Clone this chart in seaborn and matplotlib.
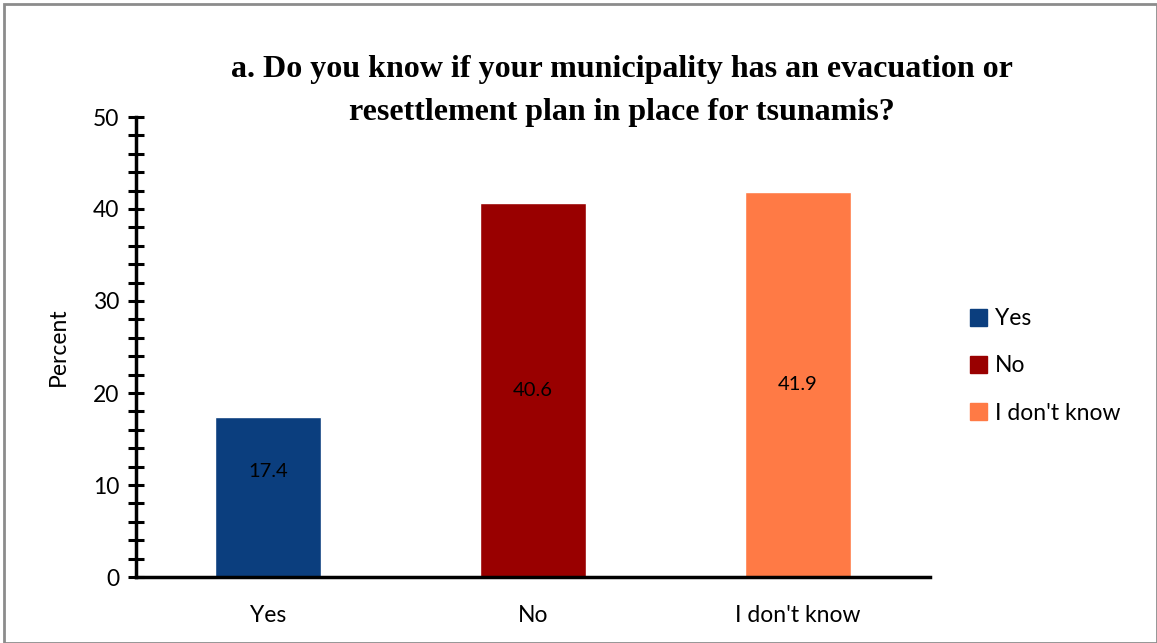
import matplotlib
matplotlib.use("Agg")
import matplotlib.pyplot as plt
import seaborn as sns
import pandas as pd
from matplotlib.patches import Rectangle
from matplotlib.ticker import MultipleLocator

categories = ["Yes", "No", "I don't know"]
percent = [17.4, 40.6, 41.9]
colors = ["#0B3E7E", "#990000", "#FF7A45"]

sns.set_style("white")
plt.rcParams['font.family'] = ['Lato', 'DejaVu Sans']
plt.rcParams['text.color'] = 'black'

df = pd.DataFrame({"answer": categories, "percent": percent})

fig = plt.figure(figsize=(11.57, 6.43), dpi=100)
ax = fig.add_axes([136/1157, 66/643, 794/1157, 460/643])

sns.barplot(data=df, x="answer", y="percent", hue="answer", order=categories,
            hue_order=categories, palette=colors, width=0.4, dodge=False,
            saturation=1, legend=False, ax=ax)

for i, v in enumerate(percent):
    ax.text(i, max(v / 2, 11.5), f"{v}", ha="center", va="center",
            fontsize=14.5, color="black")

ax.set_ylim(0, 50)
ax.set_xlim(-0.5, 2.5)
ax.yaxis.set_major_locator(MultipleLocator(10))
ax.yaxis.set_minor_locator(MultipleLocator(2))
ax.tick_params(axis="y", which="both", direction="inout", length=12, width=2.2,
               labelsize=16.5, left=True, pad=6, colors="black")
ax.tick_params(axis="x", which="both", length=0, labelsize=16.5, pad=20, colors="black")
ax.set_xlabel("")
ax.set_ylabel("Percent", fontsize=16.5, labelpad=17, color="black")
for s in ["top", "right"]:
    ax.spines[s].set_visible(False)
for s in ["left", "bottom"]:
    ax.spines[s].set_linewidth(2.5)
    ax.spines[s].set_color("black")

fig.text(622/1157, 1 - 91/643, "a. Do you know if your municipality has an evacuation or\nresettlement plan in place for tsunamis?",
         ha="center", va="center", fontsize=23, fontweight="bold",
         family=["Liberation Serif"], linespacing=1.68)

handles = [Rectangle((0, 0), 1, 1, color=c) for c in colors]
fig.legend(handles, categories, loc="center left", bbox_to_anchor=(949/1157, 1 - 366/643),
           frameon=False, fontsize=16.5, handlelength=0.75, handleheight=0.75,
           handletextpad=0.35, labelspacing=1.15)

fig.patches.append(Rectangle((4/1157, 0), 1 - 4/1157, 1 - 4/643, transform=fig.transFigure,
                             fill=False, edgecolor="#8c8c8c", linewidth=2))

fig.savefig("out.png", dpi=100)
